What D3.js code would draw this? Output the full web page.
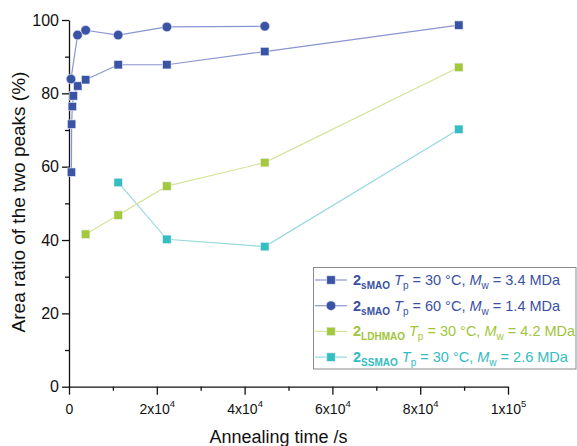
<!DOCTYPE html>
<html>
<head>
<meta charset="utf-8">
<script src="https://cdn.jsdelivr.net/npm/d3@7"></script>
<style>
  body { margin: 0; background: #fff; }
  text { font-family: "Liberation Sans", Arial, sans-serif; }
</style>
</head>
<body>
<svg id="chart" width="577" height="446"></svg>
<script>
const width = 577;
const height = 446;
const margin = {top: 20, right: 69, bottom: 59.3, left: 69};

// data (time in s, area ratio in %)
const sq30Time = [550, 600, 750, 1000, 2000, 3800, 11200, 22300, 44600, 88800];
const sq30Val  = [58.5, 71.6, 76.4, 79.3, 82.0, 83.7, 87.8, 87.8, 91.4, 98.6];
const ci60Time = [450, 1950, 3800, 11200, 22300, 44600];
const ci60Val  = [83.9, 95.9, 97.2, 95.9, 98.1, 98.3];
const ldhTime  = [3800, 11200, 22300, 44600, 88800];
const ldhVal   = [41.6, 46.8, 54.7, 61.1, 87.1];
const ssTime   = [11200, 22300, 44600, 88800];
const ssVal    = [55.7, 40.2, 38.2, 70.2];

const seriesNames = ["sMAO", "sMAO", "LDHMAO", "SSMAO"];
const seriesTp = ["30", "60", "30", "30"];
const seriesMw = ["3.4", "1.4", "4.2", "2.6"];
const seriesShape = ["square", "circle", "square", "square"];
const markColors = ["#3a53a5", "#3a53a5", "#a3c83a", "#33bec2"];
const lineColors = ["#8995cf", "#8995cf", "#d3e49b", "#97d8dc"];
const textColors = ["#3a50a2", "#3a50a2", "#a1c53a", "#33bcc0"];

const xTicks = [0, 20000, 40000, 60000, 80000, 100000];
const xTickLabels = [["0", ""], ["2x10", "4"], ["4x10", "4"], ["6x10", "4"], ["8x10", "4"], ["1x10", "5"]];
const yTicks = [0, 20, 40, 60, 80, 100];

const series = [
  {t: sq30Time, v: sq30Val},
  {t: ci60Time, v: ci60Val},
  {t: ldhTime, v: ldhVal},
  {t: ssTime, v: ssVal}
];

const svg = d3.select("#chart");
const chartWidth = width - margin.left - margin.right;
const chartHeight = height - margin.top - margin.bottom;

const g = svg.append("g")
    .attr("transform", `translate(${margin.left},${margin.top})`);

const x = d3.scaleLinear().domain([0, 100000]).range([0, chartWidth]);
const y = d3.scaleLinear().domain([0, 100]).range([chartHeight, 0]);

// minor ticks
g.append("g")
    .attr("transform", `translate(0,${chartHeight})`)
    .call(d3.axisBottom(x).tickValues(d3.range(10000, 100000, 20000)).tickSize(4).tickFormat(""))
    .call(a => a.select(".domain").remove())
    .selectAll("line").attr("stroke-width", 1.2);

g.append("g")
    .call(d3.axisLeft(y).tickValues(d3.range(10, 100, 20)).tickSize(4).tickFormat(""))
    .call(a => a.select(".domain").remove())
    .selectAll("line").attr("stroke-width", 1.2);

// major axes
const xAxisG = g.append("g")
    .attr("transform", `translate(0,${chartHeight})`)
    .call(d3.axisBottom(x).tickValues(xTicks).tickSize(8).tickSizeOuter(0).tickPadding(6).tickFormat(""));

xAxisG.selectAll(".tick").each(function(d, i) {
  const t = d3.select(this).select("text")
      .attr("font-size", 14).attr("fill", "#111").attr("dy", "0.95em");
  t.append("tspan").text(xTickLabels[i][0]);
  if (xTickLabels[i][1]) {
    t.append("tspan").attr("font-size", 9.5).attr("dy", "-0.75em").text(xTickLabels[i][1]);
  }
});

const yAxisG = g.append("g")
    .call(d3.axisLeft(y).tickValues(yTicks).tickSize(7).tickSizeOuter(0).tickPadding(3));

yAxisG.selectAll("text").attr("font-size", 16).attr("fill", "#111");
svg.selectAll(".domain, .tick line").attr("stroke", "#111").attr("stroke-width", 1.3);

// axis titles
svg.append("text")
    .attr("x", margin.left + x(50000) - 10)
    .attr("y", 443)
    .attr("text-anchor", "middle")
    .attr("font-size", 18)
    .attr("fill", "#111")
    .text("Annealing time /s");

svg.append("text")
    .attr("transform", "translate(25,202) rotate(-90)")
    .attr("text-anchor", "middle")
    .attr("font-size", 19)
    .attr("fill", "#111")
    .text("Area ratio of the two peaks (%)");

// lines and markers
const line = d3.line().x(d => x(d[0])).y(d => y(d[1]));

function drawMarker(sel, shape, color, stroke) {
  if (shape === "circle") {
    sel.append("circle").attr("r", 4.8)
        .attr("fill", color).attr("stroke", stroke).attr("stroke-width", 0.6);
  } else {
    sel.append("rect").attr("x", -4.2).attr("y", -4.2).attr("width", 8.4).attr("height", 8.4)
        .attr("fill", color).attr("stroke", stroke).attr("stroke-width", 0.6);
  }
}

[3, 2, 0, 1].forEach(i => {
  const pts = d3.zip(series[i].t, series[i].v);
  g.append("path")
      .datum(pts)
      .attr("fill", "none")
      .attr("stroke", lineColors[i])
      .attr("stroke-width", 1.2)
      .attr("d", line);
});

[3, 2, 0, 1].forEach(i => {
  const pts = d3.zip(series[i].t, series[i].v);
  g.selectAll(null)
      .data(pts)
      .enter()
      .append("g")
      .attr("transform", d => `translate(${x(d[0])},${y(d[1])})`)
      .each(function() { drawMarker(d3.select(this), seriesShape[i], markColors[i], "#e8ecf6"); });
});

// legend
const legend = svg.append("g");
legend.append("rect")
    .attr("x", 313.5).attr("y", 267.5)
    .attr("width", 262.5).attr("height", 101.5)
    .attr("fill", "#fff")
    .attr("stroke", "#8a8a8a")
    .attr("stroke-width", 1);

seriesNames.forEach((name, i) => {
  const cy = 280 + i * 25.7;
  const row = legend.append("g").attr("transform", `translate(0,${cy})`);
  row.append("line")
      .attr("x1", 315).attr("x2", 347)
      .attr("stroke", lineColors[i]).attr("stroke-width", 1.2);
  const m = row.append("g").attr("transform", "translate(331,0)");
  drawMarker(m, seriesShape[i], markColors[i], "#e8ecf6");

  const t = row.append("text")
      .attr("x", 353)
      .attr("y", 5)
      .attr("font-size", 14.5)
      .attr("fill", textColors[i]);
  t.append("tspan").attr("font-weight", "bold").text("2");
  t.append("tspan").attr("font-weight", "bold").attr("font-size", 10).attr("dy", 4).text(name);
  t.append("tspan").attr("dy", -4).text("\u00a0");
  t.append("tspan").attr("font-style", "italic").text("T");
  t.append("tspan").attr("font-size", 10).attr("dy", 4).text("p");
  t.append("tspan").attr("dy", -4).text(` = ${seriesTp[i]} °C, `);
  t.append("tspan").attr("font-style", "italic").text("M");
  t.append("tspan").attr("font-size", 10).attr("dy", 4).text("w");
  t.append("tspan").attr("dy", -4).text(` = ${seriesMw[i]} MDa`);
});
</script>
</body>
</html>
